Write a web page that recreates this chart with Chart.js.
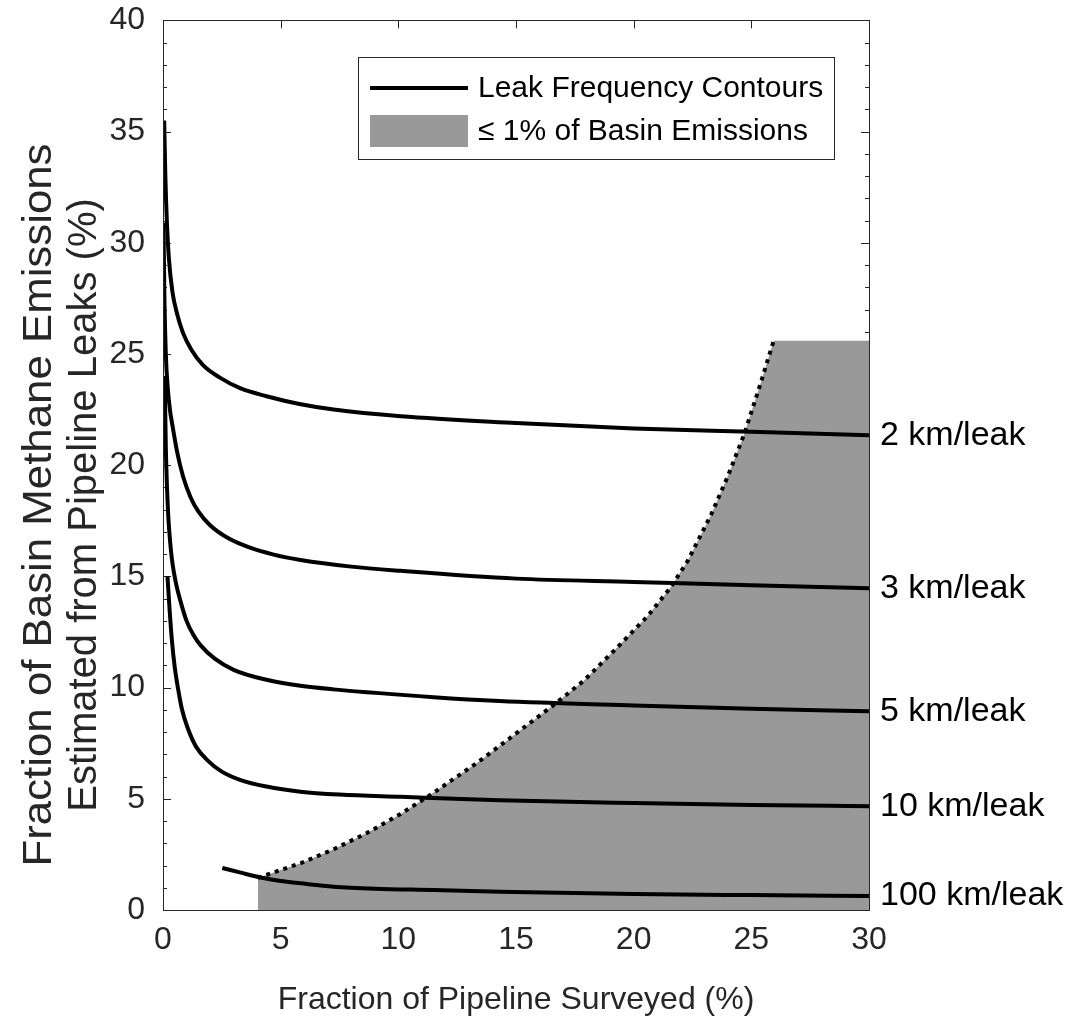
<!DOCTYPE html>
<html>
<head>
<meta charset="utf-8">
<title>Leak frequency contours</title>
<script src="https://cdn.jsdelivr.net/npm/chart.js@4.4.0/dist/chart.umd.min.js"></script>
<style>
  html, body { margin: 0; padding: 0; background: #fff; }
  #wrap { width: 1091px; height: 1022px; position: relative; }
</style>
</head>
<body>
<div id="wrap"><canvas id="leakChart"></canvas></div>
<script>
// fraction of pipeline surveyed (%) vs. estimated share of basin emissions (%)
const x2km = [0.05, 0.1, 0.17, 0.25, 0.4, 0.6, 0.85, 1.2, 1.7, 2.4, 3.3, 4.4, 5.8, 7.25, 10.1, 15, 20, 25, 30];
const y2km = [35.5, 33.0, 30.8, 29.3, 27.8, 26.8, 25.95, 25.2, 24.5, 23.95, 23.45, 23.1, 22.75, 22.5, 22.2, 21.9, 21.65, 21.5, 21.35];

const x3km = [0.02, 0.06, 0.12, 0.2, 0.3, 0.4, 0.6, 0.85, 1.17, 1.5, 2.0, 2.8, 3.7, 4.7, 5.84, 8, 10.1, 15, 20, 25, 30];
const y3km = [30.9, 27.5, 25.0, 23.5, 22.45, 21.8, 20.6, 19.5, 18.56, 17.92, 17.3, 16.7, 16.29, 15.98, 15.74, 15.44, 15.25, 14.9, 14.75, 14.6, 14.47];

const x5km = [0.07, 0.12, 0.17, 0.23, 0.3, 0.4, 0.55, 0.74, 1.0, 1.3, 1.6, 2.2, 3.0, 4.4, 5.84, 7.25, 11.5, 14.3, 20, 25, 30];
const y5km = [24.0, 20.8, 19.0, 17.6, 16.6, 15.6, 14.7, 13.9, 13.0, 12.35, 11.9, 11.3, 10.8, 10.35, 10.08, 9.92, 9.57, 9.4, 9.2, 9.05, 8.94];

const x10km = [0.19, 0.22, 0.3, 0.38, 0.5, 0.6, 0.8, 1.03, 1.4, 1.88, 2.5, 3.3, 4.4, 5.84, 7.5, 10.1, 14.3, 20, 25, 30];
const y10km = [15.0, 14.5, 13.2, 12.1, 10.9, 10.2, 9.05, 8.24, 7.35, 6.74, 6.22, 5.84, 5.55, 5.32, 5.19, 5.09, 4.94, 4.81, 4.72, 4.67];

const x100km = [2.52, 3.3, 4.2, 5.0, 5.84, 7.25, 9.0, 11.5, 14.3, 20, 25, 30];
const y100km = [1.89, 1.68, 1.45, 1.3, 1.2, 1.05, 0.96, 0.9, 0.82, 0.72, 0.67, 0.63];

// edge of the region where pipeline leaks are <= 1% of basin emissions
const xEdge = [4.03, 5.0, 5.84, 7.25, 8.68, 10.1, 11.37, 13.35, 14.77, 16.54, 17.87, 19.3, 20.58, 21.57, 22.3, 23.3, 24.0, 24.7, 25.4, 25.95];
const yEdge = [1.44, 1.8, 2.1, 2.73, 3.47, 4.32, 5.18, 6.62, 7.75, 9.17, 10.3, 11.8, 13.2, 14.5, 15.7, 17.8, 19.5, 21.4, 23.7, 25.6];
const regionTop = 25.6;

const contourLabels = ['2 km/leak', '3 km/leak', '5 km/leak', '10 km/leak', '100 km/leak'];
const legendLabels = ['Leak Frequency Contours', '\u2264 1% of Basin Emissions'];
const yTitleLines = ['Fraction of Basin Methane Emissions', 'Estimated from Pipeline Leaks (%)'];
const xTicks = [0, 5, 10, 15, 20, 25, 30];
const yTicks = [0, 5, 10, 15, 20, 25, 30, 35, 40];

const axisColor = '#262626';
const greyFill = '#999999';
const FONT = "'Liberation Sans', Arial, Helvetica, sans-serif";

const toPoints = (xs, ys) => xs.map((x, i) => ({ x: x, y: ys[i] }));
const contours = [[x2km, y2km], [x3km, y3km], [x5km, y5km], [x10km, y10km], [x100km, y100km]];
const contourEnds = contours.map(c => c[1][c[1].length - 1]);

const datasets = contours.map((c, i) => ({
    label: contourLabels[i],
    data: toPoints(c[0], c[1]),
    borderColor: '#000',
    borderWidth: 4,
    pointRadius: 0,
    cubicInterpolationMode: 'monotone',
    fill: false,
    order: 1
}));

datasets.push({
    label: 'edge',
    data: toPoints(xEdge, yEdge),
    borderColor: '#000',
    borderWidth: 4,
    borderDash: [4, 5],
    pointRadius: 0,
    tension: 0,
    fill: false,
    order: 2
});

datasets.push({
    label: 'region',
    data: toPoints(xEdge.concat([30]), yEdge.concat([regionTop])),
    borderWidth: 0,
    borderColor: 'rgba(0,0,0,0)',
    backgroundColor: greyFill,
    pointRadius: 0,
    tension: 0,
    fill: 'origin',
    order: 3
});

// inward tick marks (under the data) and the box frame (on top)
const frameTicks = {
    id: 'frameTicks',
    beforeDatasetsDraw(chart) {
        const { ctx, chartArea: a, scales: { x, y } } = chart;
        ctx.save();
        ctx.strokeStyle = axisColor;
        ctx.lineWidth = 1;
        ctx.beginPath();
        xTicks.forEach(v => {
            const px = Math.round(x.getPixelForValue(v)) + 0.5;
            ctx.moveTo(px, a.bottom); ctx.lineTo(px, a.bottom - 8);
            ctx.moveTo(px, a.top); ctx.lineTo(px, a.top + 8);
        });
        for (let v = y.min; v <= y.max; v += 1) {
            const py = Math.round(y.getPixelForValue(v)) + 0.5;
            const len = v % 5 === 0 ? 8 : 4;
            ctx.moveTo(a.left, py); ctx.lineTo(a.left + len, py);
            ctx.moveTo(a.right, py); ctx.lineTo(a.right - len, py);
        }
        ctx.stroke();
        ctx.restore();
    },
    afterDatasetsDraw(chart) {
        const { ctx, chartArea: a } = chart;
        ctx.save();
        ctx.strokeStyle = axisColor;
        ctx.lineWidth = 1;
        ctx.strokeRect(Math.round(a.left) + 0.5, Math.round(a.top) + 0.5,
            Math.round(a.right - a.left), Math.round(a.bottom - a.top));
        ctx.restore();
    }
};

// two-line y axis title, sitting a bit below the plot's centre
const yTitle = {
    id: 'yTitle',
    afterDraw(chart) {
        const { ctx } = chart;
        const xs = [40, 85];
        const stretch = [1.095, 1.0]; // first line runs longer in the original
        ctx.save();
        ctx.fillStyle = axisColor;
        ctx.font = '40px ' + FONT;
        ctx.textAlign = 'center';
        ctx.textBaseline = 'middle';
        yTitleLines.forEach((t, i) => {
            ctx.save();
            ctx.translate(xs[i], 505);
            ctx.rotate(-Math.PI / 2);
            ctx.scale(stretch[i], 1);
            ctx.fillText(t, 0, 0);
            ctx.restore();
        });
        ctx.restore();
    }
};

// boxed legend in the upper right of the plot
const boxLegend = {
    id: 'boxLegend',
    afterDraw(chart) {
        const { ctx } = chart;
        const left = 358, top = 57, right = 834, bottom = 159;
        ctx.save();
        ctx.fillStyle = '#fff';
        ctx.fillRect(left, top, right - left, bottom - top);
        ctx.strokeStyle = axisColor;
        ctx.lineWidth = 1;
        ctx.strokeRect(left + 0.5, top + 0.5, right - left, bottom - top);

        ctx.strokeStyle = '#000';
        ctx.lineWidth = 4;
        ctx.beginPath();
        ctx.moveTo(370, 88); ctx.lineTo(468, 88);
        ctx.stroke();

        ctx.fillStyle = greyFill;
        ctx.fillRect(370, 115, 98, 32);

        ctx.fillStyle = '#000';
        ctx.font = '30px ' + FONT;
        ctx.textAlign = 'left';
        ctx.textBaseline = 'middle';
        ctx.fillText(legendLabels[0], 478, 89);
        ctx.fillText(legendLabels[1], 478, 132);
        ctx.restore();
    }
};

Chart.defaults.font.family = FONT;
Chart.defaults.color = axisColor;

new Chart(document.getElementById('leakChart'), {
    type: 'line',
    data: { datasets: datasets },
    options: {
        responsive: true,
        maintainAspectRatio: false,
        animation: false,
        layout: { padding: { top: 20, left: 0, right: 0, bottom: 0 } },
        plugins: {
            legend: { display: false },
            tooltip: { enabled: false }
        },
        scales: {
            x: {
                type: 'linear',
                min: 0,
                max: 30,
                afterBuildTicks: s => { s.ticks = xTicks.map(v => ({ value: v })); },
                ticks: { padding: 11, color: axisColor, font: { size: 32 } },
                grid: { display: false, drawTicks: false },
                border: { display: false },
                title: {
                    display: true,
                    text: 'Fraction of Pipeline Surveyed (%)',
                    color: axisColor,
                    font: { size: 32 },
                    padding: { top: 0, bottom: 3 }
                },
                afterFit: s => { s.height = 112; }
            },
            y: {
                type: 'linear',
                min: 0,
                max: 40,
                afterBuildTicks: s => { s.ticks = yTicks.map(v => ({ value: v })); },
                ticks: { padding: 0, color: axisColor, font: { size: 32 } },
                // invisible tick length only spaces the labels from the frame
                grid: { display: false, drawTicks: true, tickLength: 18 },
                border: { display: false },
                afterFit: s => { s.width = 163; }
            },
            y2: {
                type: 'linear',
                position: 'right',
                min: 0,
                max: 40,
                afterBuildTicks: s => { s.ticks = contourEnds.map(v => ({ value: v })); },
                ticks: {
                    autoSkip: false,
                    padding: 0,
                    color: '#000',
                    font: { size: 34 },
                    callback: (v, i) => contourLabels[i]
                },
                grid: { display: false, drawTicks: true, tickLength: 11 },
                border: { display: false },
                afterFit: s => { s.width = 222; }
            }
        }
    },
    plugins: [frameTicks, yTitle, boxLegend]
});
</script>
</body>
</html>
